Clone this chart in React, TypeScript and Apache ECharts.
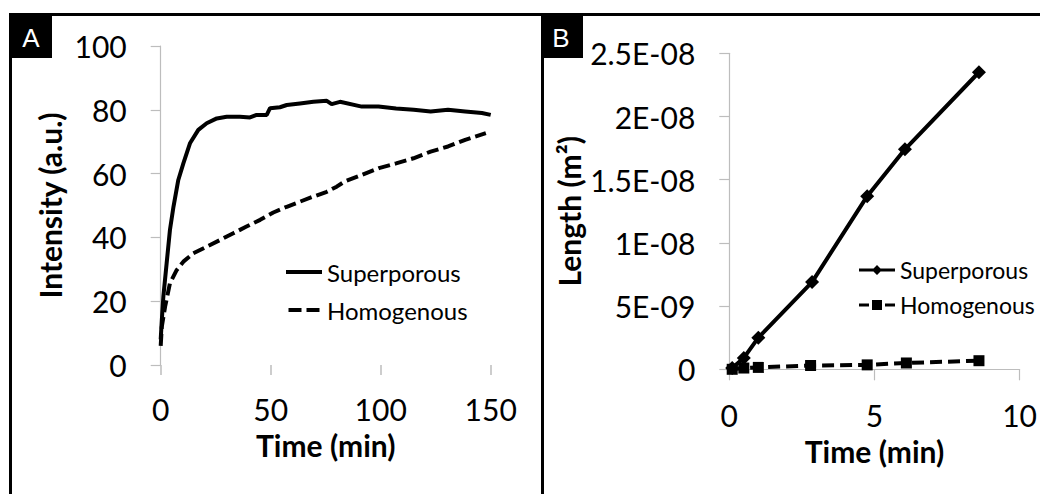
import React, { useEffect, useRef } from "react";
import * as echarts from "echarts";

// ---------- data ----------
const seriesNames = ["Superporous", "Homogenous"];

// Panel A: Intensity vs time
const timeASup = [0, 0.5, 1.2, 2.7, 4.2, 5.8, 8, 10.3, 13.3, 17.1, 20.9, 25.5, 30, 36, 40.6, 43.6, 48.2, 49.7, 54.2, 57.3, 63.3, 69.4, 75.5, 77.7, 81.5, 91.4, 99, 107, 115, 122.7, 130.6, 138.4, 146, 150];
const intASup = [8, 14, 21.4, 31.9, 42.3, 49.6, 58, 63.2, 69.5, 73.7, 75.8, 77.3, 77.8, 77.8, 77.6, 78.4, 78.4, 80.5, 80.8, 81.5, 82, 82.5, 82.8, 81.8, 82.5, 81, 81, 80.4, 80, 79.5, 80, 79.5, 79, 78.4];
const timeAHom = [0, 0.5, 2, 4.2, 7.3, 10.3, 14.8, 20.9, 27, 33, 39, 45.2, 51.2, 57.3, 63.3, 69.4, 75.5, 80, 83.5, 91.4, 99.2, 107, 114.9, 122.7, 130.6, 138.4, 147.8];
const intAHom = [6, 12, 18.3, 25.6, 29.8, 32.4, 35, 37.1, 39.2, 41.3, 43.4, 45.5, 47.8, 49.6, 51.2, 52.8, 54.3, 55.9, 57.5, 59.6, 61.7, 63.2, 64.8, 66.9, 68.5, 70.6, 72.7];

// Panel B: Length vs time
const timeBSup = [0.1, 0.5, 1.0, 2.85, 4.75, 6.05, 8.6];
const lenBSup = [0.1e-9, 0.9e-9, 2.5e-9, 6.9e-9, 1.37e-8, 1.74e-8, 2.35e-8];
const timeBHom = [0.1, 0.5, 1.0, 2.8, 4.75, 6.1, 8.6];
const lenBHom = [0, 0.1e-9, 0.15e-9, 0.3e-9, 0.35e-9, 0.5e-9, 0.68e-9];

// tick labels
const xTicksA = ["0", "50", "100", "150"];
const yTicksA = ["0", "20", "40", "60", "80", "100"];
const xTicksB = ["0", "5", "10"];
const yTicksB = ["0", "5E-09", "1E-08", "1.5E-08", "2E-08", "2.5E-08"];

const pairs = (xs: number[], ys: number[]) => xs.map((x, i) => [x, ys[i]]);

const FONT = "Lato, 'Open Sans', sans-serif";
const AXIS_GRAY = "#bdbdbd";

export default function App() {
  const ref = useRef<HTMLDivElement>(null);

  useEffect(() => {
    if (!ref.current) return;
    const chart = echarts.init(ref.current, undefined, { renderer: "svg" });

    const tickLabel = { fontSize: 30, color: "#000", fontFamily: FONT };
    const nameStyle = { fontSize: 30, fontWeight: "bold" as const, color: "#000", fontFamily: FONT };
    const legendTextA = { fontSize: 24, lineHeight: 24, color: "#000", fontFamily: FONT };
    const legendTextB = { fontSize: 23, lineHeight: 24, color: "#000", fontFamily: FONT };

    chart.setOption({
      animation: false,
      backgroundColor: "#fff",
      grid: [
        { left: 160.7, right: 549.3, top: 46, bottom: 129 },
        { left: 729.3, right: 16, top: 53.3, bottom: 124.7 },
      ],
      xAxis: [
        {
          gridIndex: 0,
          type: "value",
          min: 0,
          max: 150,
          interval: 50,
          axisLine: { show: false },
          axisTick: { show: true, length: 10, lineStyle: { color: AXIS_GRAY, width: 1.5 } },
          splitLine: { show: false },
          axisLabel: { ...tickLabel, margin: 29, formatter: (_v: number, i: number) => xTicksA[i] },
          name: "Time (min)",
          nameLocation: "middle",
          nameGap: 65,
          nameTextStyle: nameStyle,
        },
        {
          gridIndex: 1,
          type: "value",
          min: 0,
          max: 10,
          interval: 5,
          axisLine: { show: true, lineStyle: { color: AXIS_GRAY, width: 1.2 } },
          axisTick: { show: true, length: 11, lineStyle: { color: AXIS_GRAY, width: 1.2 } },
          splitLine: { show: false },
          axisLabel: { ...tickLabel, margin: 31, formatter: (_v: number, i: number) => xTicksB[i] },
          name: "Time (min)",
          nameLocation: "middle",
          nameGap: 67,
          nameTextStyle: nameStyle,
        },
      ],
      yAxis: [
        {
          gridIndex: 0,
          type: "value",
          min: 0,
          max: 100,
          interval: 20,
          axisLine: { show: true, lineStyle: { color: AXIS_GRAY, width: 1.2 } },
          axisTick: { show: true, length: 10, lineStyle: { color: AXIS_GRAY, width: 1.2 } },
          splitLine: { show: false },
          axisLabel: { ...tickLabel, margin: 34, formatter: (_v: number, i: number) => yTicksA[i] },
          name: "Intensity (a.u.)",
          nameLocation: "middle",
          nameGap: 96,
          nameTextStyle: nameStyle,
        },
        {
          gridIndex: 1,
          type: "value",
          min: 0,
          max: 2.5e-8,
          interval: 5e-9,
          axisLine: { show: true, lineStyle: { color: AXIS_GRAY, width: 1.2 } },
          axisTick: { show: true, length: 10, lineStyle: { color: AXIS_GRAY, width: 1.2 } },
          splitLine: { show: false },
          axisLabel: { ...tickLabel, margin: 34, formatter: (_v: number, i: number) => yTicksB[i] },
          name: "Length (m²)",
          nameLocation: "middle",
          nameGap: 145,
          nameTextStyle: nameStyle,
        },
      ],
      legend: [
        {
          orient: "vertical",
          left: 286,
          top: 260,
          padding: 0,
          itemWidth: 36,
          itemHeight: 4,
          itemGap: 14,
          selectedMode: false,
          textStyle: legendTextA,
          data: [
            { name: seriesNames[0], icon: "path://M0,0H36V4H0Z" },
            { name: seriesNames[1], icon: "path://M0,0H13V4H0ZM18,0H31V4H18Z" },
          ],
        },
        {
          orient: "vertical",
          left: 859,
          top: 258,
          padding: 0,
          itemWidth: 36,
          itemHeight: 12,
          itemGap: 11,
          selectedMode: false,
          textStyle: legendTextB,
          data: [
            { name: seriesNames[0], icon: "path://M0,4.5H36V7.5H0ZM18,1L23,6L18,11L13,6Z" },
            { name: seriesNames[1], icon: "path://M0,4.5H10V7.5H0ZM13,1H23V11H13ZM26,4.5H36V7.5H26Z" },
          ],
        },
      ],
      series: [
        {
          name: seriesNames[0],
          type: "line",
          xAxisIndex: 0,
          yAxisIndex: 0,
          symbol: "none",
          showSymbol: false,
          color: "#000",
          lineStyle: { color: "#000", width: 4 },
          data: pairs(timeASup, intASup),
        },
        {
          name: seriesNames[1],
          type: "line",
          xAxisIndex: 0,
          yAxisIndex: 0,
          symbol: "none",
          showSymbol: false,
          color: "#000",
          lineStyle: { color: "#000", width: 4, type: [12, 5] },
          data: pairs(timeAHom, intAHom),
        },
        {
          name: seriesNames[0],
          type: "line",
          xAxisIndex: 1,
          yAxisIndex: 1,
          symbol: "diamond",
          symbolSize: 14,
          color: "#000",
          itemStyle: { color: "#000" },
          lineStyle: { color: "#000", width: 4 },
          data: pairs(timeBSup, lenBSup),
        },
        {
          name: seriesNames[1],
          type: "line",
          xAxisIndex: 1,
          yAxisIndex: 1,
          symbol: "rect",
          symbolSize: 11,
          color: "#000",
          itemStyle: { color: "#000" },
          lineStyle: { color: "#000", width: 4, type: [12, 6] },
          data: pairs(timeBHom, lenBHom),
        },
      ],
      graphic: [
        { type: "rect", silent: true, shape: { x: 9, y: 13, width: 1031, height: 3 }, style: { fill: "#000" } },
        { type: "rect", silent: true, shape: { x: 9, y: 13, width: 3, height: 481 }, style: { fill: "#000" } },
        { type: "rect", silent: true, shape: { x: 541, y: 13, width: 3, height: 481 }, style: { fill: "#000" } },
        { type: "rect", silent: true, shape: { x: 9, y: 13, width: 43, height: 45 }, style: { fill: "#000" } },
        { type: "rect", silent: true, shape: { x: 541, y: 13, width: 42, height: 45 }, style: { fill: "#000" } },
        {
          type: "text",
          silent: true,
          x: 31,
          y: 38,
          style: { text: "A", fill: "#fff", fontSize: 26, fontFamily: "'Liberation Sans', Arial, sans-serif", align: "center", verticalAlign: "middle" },
        },
        {
          type: "text",
          silent: true,
          x: 561,
          y: 38,
          style: { text: "B", fill: "#fff", fontSize: 26, fontFamily: "'Liberation Sans', Arial, sans-serif", align: "center", verticalAlign: "middle" },
        },
      ],
    });

    return () => chart.dispose();
  }, []);

  return <div ref={ref} style={{ position: "fixed", left: 0, top: 0, width: 1040, height: 494 }} />;
}
